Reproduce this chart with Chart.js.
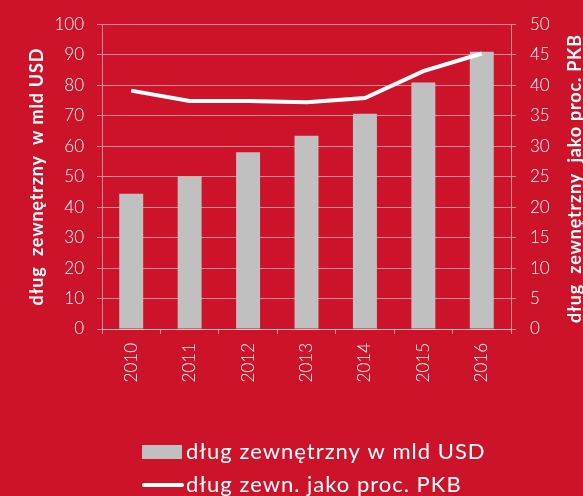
<!DOCTYPE html>
<html>
<head>
<meta charset="utf-8">
<script src="https://cdn.jsdelivr.net/npm/chart.js@4"></script>
<style>
  html, body { margin: 0; padding: 0; background: #cd1329; }
  #wrap { width: 583px; height: 496px; }
</style>
</head>
<body>
<div id="wrap"><canvas id="c" width="583" height="496"></canvas></div>
<script>
const categories = ['2010', '2011', '2012', '2013', '2014', '2015', '2016'];
const debtUSD = [44.4, 50.1, 58.0, 63.4, 70.6, 80.9, 91.0];
const debtPctGDP = [39.1, 37.4, 37.4, 37.2, 37.9, 42.3, 45.2];
const leftTicks = [0, 10, 20, 30, 40, 50, 60, 70, 80, 90, 100];
const rightTicks = [0, 5, 10, 15, 20, 25, 30, 35, 40, 45, 50];
const leftTitle = 'dług  zewnętrzny  w mld USD';
const rightTitle = 'dług  zewnętrzny  jako proc. PKB';
const barLabel = 'dług zewnętrzny w mld USD';
const lineLabel = 'dług zewn. jako proc. PKB';

const BG = '#cd1329';
const GRID = 'rgba(255,255,255,0.5)';
const FONT = 'Lato, "Open Sans", sans-serif';

const bgPlugin = {
  id: 'bg',
  beforeDraw(chart) {
    const ctx = chart.ctx;
    ctx.save();
    ctx.fillStyle = BG;
    ctx.fillRect(0, 0, chart.width, chart.height);
    ctx.restore();
  }
};

function drawVerticalTitle(ctx, text, x, y) {
  ctx.save();
  ctx.fillStyle = '#ffffff';
  ctx.font = 'bold 18px ' + FONT;
  ctx.letterSpacing = '0.8px';
  ctx.textAlign = 'center';
  ctx.textBaseline = 'middle';
  ctx.translate(x, y);
  ctx.rotate(-Math.PI / 2);
  ctx.fillText(text, 0, 0);
  ctx.restore();
}

const extrasPlugin = {
  id: 'extras',
  afterDraw(chart) {
    const ctx = chart.ctx;
    const area = chart.chartArea;
    const midY = (area.top + area.bottom) / 2;
    drawVerticalTitle(ctx, leftTitle, 37, midY);
    drawVerticalTitle(ctx, rightTitle, 575, midY + 2);

    // legend
    const ds = chart.data.datasets;
    const x0 = 142;
    const rows = [452, 485];
    ctx.save();
    ctx.font = '22px ' + FONT;
    ctx.letterSpacing = '1px';
    ctx.textBaseline = 'middle';
    ctx.textAlign = 'left';
    ds.forEach((d, i) => {
      const y = rows[i];
      if (d.type === 'bar') {
        ctx.fillStyle = d.backgroundColor;
        ctx.fillRect(x0, y - 7, 40, 14);
      } else {
        ctx.strokeStyle = d.borderColor;
        ctx.lineWidth = 4;
        ctx.lineCap = 'round';
        ctx.beginPath();
        ctx.moveTo(x0 + 2, y);
        ctx.lineTo(x0 + 40, y);
        ctx.stroke();
      }
      ctx.fillStyle = '#ffffff';
      ctx.fillText(d.label, x0 + 44, y);
    });
    ctx.restore();
  }
};

new Chart(document.getElementById('c'), {
  data: {
    labels: categories,
    datasets: [
      {
        type: 'bar',
        label: barLabel,
        data: debtUSD,
        yAxisID: 'y',
        backgroundColor: '#c0c0c0',
        barPercentage: 0.41,
        categoryPercentage: 1,
        order: 1
      },
      {
        type: 'line',
        label: lineLabel,
        data: debtPctGDP,
        yAxisID: 'y1',
        borderColor: '#ffffff',
        borderWidth: 4,
        pointRadius: 0,
        tension: 0,
        order: 0
      }
    ]
  },
  options: {
    responsive: false,
    animation: false,
    layout: { padding: { top: 21, left: 0, right: 0, bottom: 0 } },
    plugins: {
      legend: { display: false },
      tooltip: { enabled: false }
    },
    scales: {
      x: {
        offset: true,
        grid: { display: true, drawOnChartArea: false, color: GRID, tickLength: 5, offset: true },
        border: { display: true, color: GRID },
        ticks: {
          color: '#ffffff',
          font: { family: FONT, size: 17, weight: '300' },
          minRotation: 90, maxRotation: 90, padding: 9
        },
        afterFit(s) { s.height = 167; }
      },
      y: {
        position: 'left',
        min: 0, max: 100,
        afterBuildTicks(s) { s.ticks = leftTicks.map(v => ({ value: v })); },
        grid: { color: GRID, tickLength: 5 },
        border: { display: true, color: GRID },
        ticks: {
          color: '#ffffff',
          font: { family: FONT, size: 17, weight: '300' },
          padding: 13
        },
        afterFit(s) { s.width = 102; }
      },
      y1: {
        position: 'right',
        min: 0, max: 50,
        afterBuildTicks(s) { s.ticks = rightTicks.map(v => ({ value: v })); },
        grid: { drawOnChartArea: false, color: GRID, tickLength: 5 },
        border: { display: true, color: GRID },
        ticks: {
          color: '#ffffff',
          font: { family: FONT, size: 17, weight: '300' },
          padding: 14
        },
        afterFit(s) { s.width = 72; }
      }
    }
  },
  plugins: [bgPlugin, extrasPlugin]
});
</script>
</body>
</html>
